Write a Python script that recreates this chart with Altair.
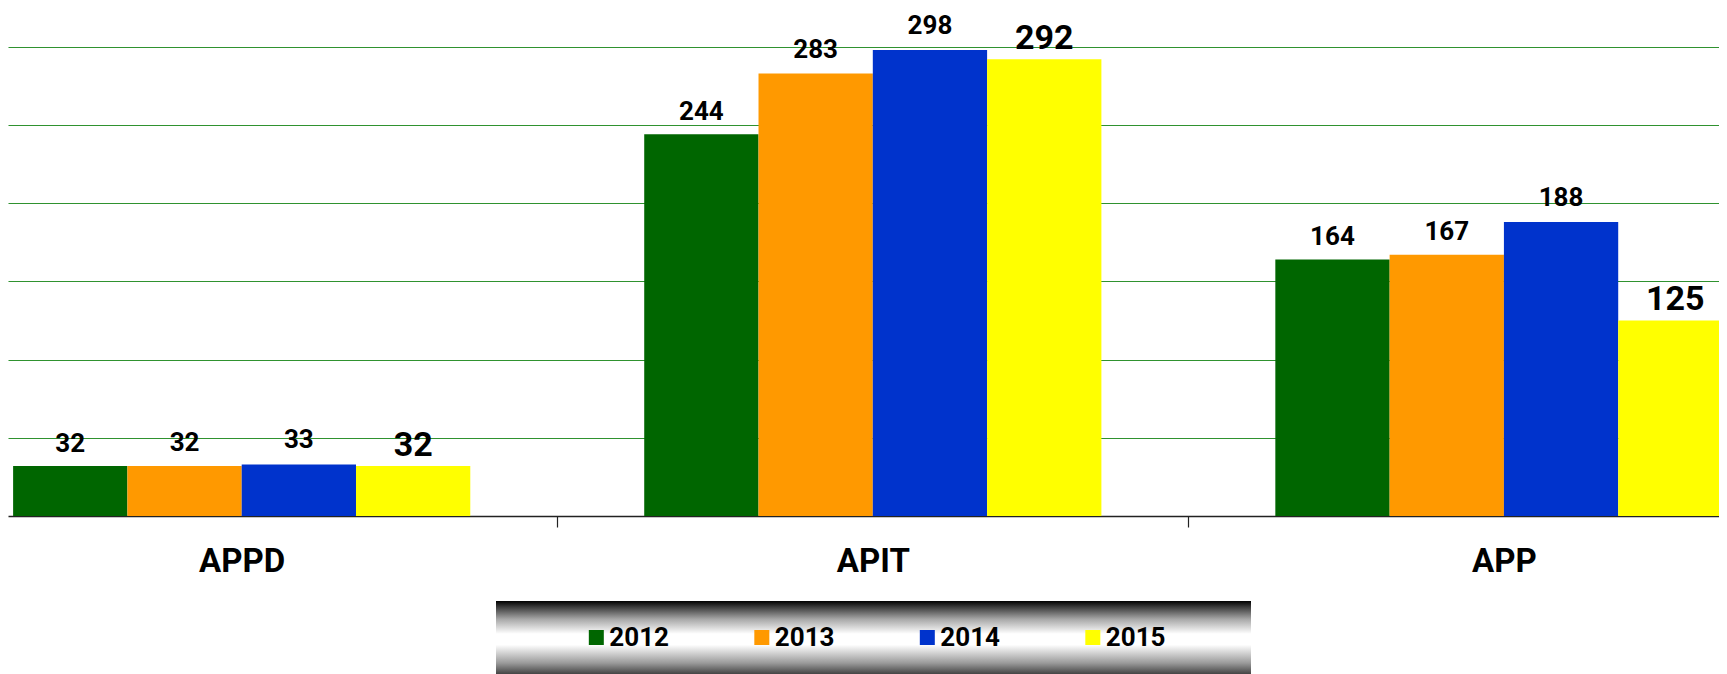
import altair as alt
import pandas as pd

# ---- data ----
categories = ["APPD", "APIT", "APP"]
years = ["2012", "2013", "2014", "2015"]
values_2012 = [32, 244, 164]
values_2013 = [32, 283, 167]
values_2014 = [33, 298, 188]
values_2015 = [32, 292, 125]
colors = ["#006600", "#FF9900", "#0033CC", "#FFFF00"]

series = [values_2012, values_2013, values_2014, values_2015]
rows = []
for yi, (yr, vals) in enumerate(zip(years, series)):
    for ci, (cat, v) in enumerate(zip(categories, vals)):
        rows.append({"category": cat, "ci": ci, "year": yr, "yi": yi, "value": v})
df = pd.DataFrame(rows)

FONT = "Roboto, Liberation Sans, sans-serif"
BAR_W = 0.1811
HALF = 2 * BAR_W

W, H = 1711, 508
YMAX = 324.8
XMIN, XMAX = -0.3703, 2.3408

xscale = alt.Scale(domain=[XMIN, XMAX], nice=False, zero=False)
yscale = alt.Scale(domain=[0, YMAX], nice=False)
color_scale = alt.Scale(domain=years, range=colors)

base = alt.Chart(df).transform_calculate(
    x0=f"datum.ci - {HALF} + datum.yi * {BAR_W}",
    x1=f"datum.ci - {HALF} + (datum.yi + 1) * {BAR_W}",
    xc=f"datum.ci - {HALF} + (datum.yi + 0.5) * {BAR_W}",
)

label_expr = ("datum.value == 0 ? 'APPD' : datum.value == 1 ? 'APIT' : "
              "datum.value == 2 ? 'APP' : ''")
xaxis = alt.Axis(
    values=[0, 0.5, 1, 1.5, 2], labelExpr=label_expr, title=None, grid=False,
    domainColor="#222222", domainWidth=1.5,
    tickColor="#222222", tickSize=11, tickWidth=1.2,
    tickOpacity={"condition": {"test": "datum.value == 0.5 || datum.value == 1.5", "value": 1},
                 "value": 0},
    labelFont=FONT, labelFontSize=33, labelFontWeight="bold", labelColor="black",
    labelPadding=18, labelOverlap=False, labelFlush=False,
)
yaxis = alt.Axis(
    values=[50, 100, 150, 200, 250, 300], labels=False, ticks=False, domain=False,
    title=None, grid=True, gridColor="#2f922f", gridWidth=1.2,
)

bars = base.mark_bar(clip=True, strokeWidth=0).encode(
    x=alt.X("x0:Q", scale=xscale, axis=xaxis),
    x2="x1:Q",
    y=alt.Y("value:Q", scale=yscale, axis=yaxis),
    y2=alt.datum(0),
    color=alt.Color("year:N", scale=color_scale, legend=None),
)

label_dy = {"2012": -14, "2013": -15, "2014": -16, "2015": -10}
label_size = {"2012": 26, "2013": 26, "2014": 26, "2015": 34}
texts = []
for yr in years:
    texts.append(
        base.transform_filter(alt.datum.year == yr)
        .mark_text(font=FONT, fontSize=label_size[yr], fontWeight="bold",
                   baseline="alphabetic", dy=label_dy[yr], color="black", clip=True)
        .encode(x="xc:Q", y="value:Q", text="value:Q")
    )

main = alt.layer(bars, *texts).properties(width=W, height=H)

# ---- custom legend with metallic gradient ----
leg_df = pd.DataFrame({"year": years})
LW, LH = 775, 73
BOX_LEFT = 20
leg_x = alt.X("year:N", scale=alt.Scale(type="point", padding=0.8414, align=0.432), axis=None)

gradient = alt.Gradient(
    gradient="linear", x1=0, y1=0, x2=0, y2=1,
    stops=[
        alt.GradientStop(offset=0.0, color="#000000"),
        alt.GradientStop(offset=0.08, color="#3a3a3a"),
        alt.GradientStop(offset=0.25, color="#a8a8a8"),
        alt.GradientStop(offset=0.45, color="#ffffff"),
        alt.GradientStop(offset=0.6, color="#ffffff"),
        alt.GradientStop(offset=0.85, color="#9a9a9a"),
        alt.GradientStop(offset=1.0, color="#444444"),
    ],
)
bg = alt.Chart(pd.DataFrame({"a": [0]})).mark_rect(fill=gradient).encode(
    x=alt.value(BOX_LEFT), x2=alt.value("width"), y=alt.value(0), y2=alt.value("height")
)
squares = alt.Chart(leg_df).mark_square(size=225, filled=True, opacity=1).encode(
    x=leg_x, y=alt.value(LH / 2),
    color=alt.Color("year:N", scale=color_scale, legend=None),
)
leg_text = alt.Chart(leg_df).mark_text(
    align="left", baseline="middle", dx=13, fontSize=26, fontWeight="bold",
    font=FONT, color="black",
).encode(x=leg_x, y=alt.value(LH / 2), text="year:N")

legend = alt.layer(bg, squares, leg_text).properties(width=LW, height=LH)

chart = (
    alt.vconcat(main, legend, spacing=23, center=True)
    .properties(padding=0, background="white")
    .configure_view(stroke=None)
)

chart.save("out.html", embed_options={"renderer": "svg", "actions": False})
